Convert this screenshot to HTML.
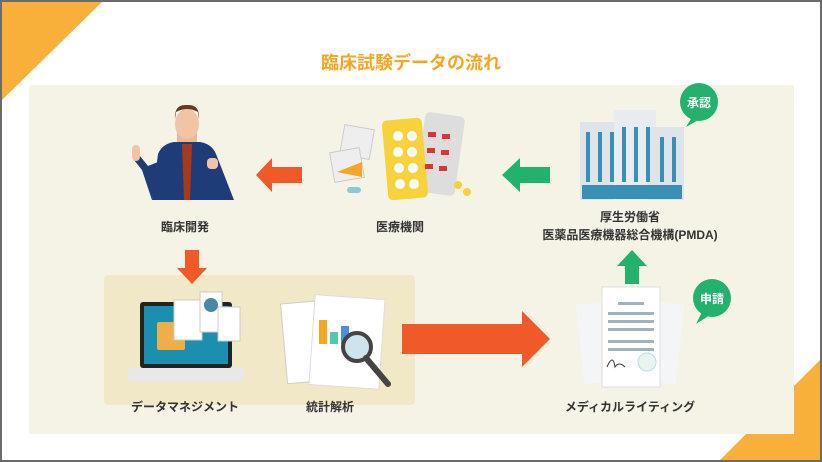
<!DOCTYPE html>
<html><head><meta charset="utf-8"><style>
body{margin:0;width:822px;height:462px;overflow:hidden;background:#fff;font-family:"Liberation Sans","Noto Sans CJK JP",sans-serif}
#w{position:relative;width:818px;height:458px;border:2px solid #6b6b6b;overflow:hidden;background:#fff}
.t{position:absolute;font-size:12px;font-weight:bold;color:#333;text-align:center;white-space:nowrap;transform:translateX(-50%)}
</style></head><body><div id="w">
<svg width="818" height="458" style="position:absolute;left:0;top:0">
<polygon points="0,0 100,0 0,98" fill="#f8b03a"/>
<polygon points="818,358 818,458 718,458" fill="#f8b03a"/>
<rect x="27" y="83" width="765" height="349" fill="#f4f3e6"/>
<rect x="102" y="273" width="311" height="130" rx="5" fill="#f1e8c8"/>
<!-- person -->
<rect x="175" y="128" width="20" height="20" fill="#e8b898"/>
<path d="M150 198 L156 152 Q160 142 172 140 L198 140 Q210 142 214 152 L232 198Z" fill="#1d3c78"/>
<path d="M150 198 L140 168 L132 158 L138 154 L146 164 L156 160Z" fill="#1d3c78"/>
<polygon points="180,142 190,142 188,198 182,198" fill="#a63a1a"/>
<ellipse cx="185" cy="122" rx="12" ry="15" fill="#f0c4a4"/>
<path d="M173 117 Q172 102 185 103 Q198 102 197 117 L196 110 Q185 104 174 110Z" fill="#6b3a1e"/>
<rect x="130" y="143" width="8" height="16" rx="4" fill="#f0c4a4"/>
<rect x="205" y="156" width="11" height="11" rx="4" fill="#f0c4a4"/>
<!-- arrows -->
<polygon points="300,165 270,165 270,156 254,173 270,190 270,181 300,181" fill="#f05a28"/>
<polygon points="548,165 518,165 518,156 500,173 518,190 518,181 548,181" fill="#23b26d"/>
<polygon points="183,248 197,248 197,266 205,266 190,282 175,266 183,266" fill="#f05a28"/>
<polygon points="623,282 637,282 637,264 645,264 630,248 615,264 623,264" fill="#23b26d"/>
<polygon points="400,322 520,322 520,309 548,337 520,365 520,352 400,352" fill="#f05a28"/>
<!-- pills -->
<rect x="340" y="125" width="30" height="30" fill="#eee" stroke="#ccc" transform="rotate(10 355 140)"/>
<rect x="330" y="148" width="30" height="30" fill="#eee" stroke="#ccc" transform="rotate(-10 345 163)"/>
<polygon points="335,170 360,160 360,175" fill="#f5a623"/>
<rect x="418" y="112" width="40" height="80" rx="5" fill="#ddd" transform="rotate(8 438 152)"/>
<rect x="383" y="117" width="40" height="80" rx="5" fill="#f7d23a" transform="rotate(-5 403 157)"/>
<g fill="#fff"><circle cx="396" cy="134" r="5"/><circle cx="410" cy="134" r="5"/><circle cx="396" cy="150" r="5"/><circle cx="410" cy="150" r="5"/><circle cx="397" cy="166" r="5"/><circle cx="411" cy="166" r="5"/><circle cx="398" cy="182" r="5"/><circle cx="412" cy="182" r="5"/></g>
<g fill="#d33"><rect x="426" y="130" width="8" height="5"/><rect x="440" y="132" width="8" height="5"/><rect x="425" y="146" width="8" height="5"/><rect x="439" y="148" width="8" height="5"/><rect x="423" y="162" width="8" height="5"/><rect x="437" y="164" width="8" height="5"/></g>
<circle cx="456" cy="183" r="4" fill="#f7d23a"/><circle cx="465" cy="190" r="4" fill="#f7d23a"/>
<rect x="345" y="185" width="14" height="6" rx="3" fill="#8cc7e0"/>
<!-- building -->
<rect x="578" y="120" width="50" height="78" fill="#dfe4ea"/>
<rect x="612" y="108" width="42" height="90" fill="#e8ecf0"/>
<rect x="645" y="125" width="37" height="73" fill="#dfe4ea"/>
<g fill="#3a8fb7"><rect x="584" y="130" width="4" height="50"/><rect x="596" y="130" width="4" height="50"/><rect x="608" y="130" width="4" height="50"/><rect x="620" y="125" width="4" height="55"/><rect x="632" y="125" width="4" height="55"/><rect x="644" y="125" width="4" height="55"/><rect x="658" y="135" width="4" height="45"/><rect x="670" y="135" width="4" height="45"/>
<rect x="580" y="183" width="100" height="14"/></g>
<circle cx="697" cy="100" r="19" fill="#23b26d"/><polygon points="690,115 684,125 698,117" fill="#23b26d"/>
<text x="697" y="105" font-size="12" font-weight="bold" fill="#fff" text-anchor="middle" font-family="Liberation Sans,Noto Sans CJK JP,sans-serif">承認</text>
<!-- laptop -->
<rect x="138" y="300" width="92" height="66" rx="3" fill="#222"/>
<rect x="142" y="304" width="84" height="58" fill="#1a8fb0"/>
<rect x="126" y="366" width="116" height="14" rx="3" fill="#e8e8e8"/>
<rect x="155" y="320" width="28" height="28" rx="2" fill="#eeae48"/>
<rect x="172" y="298" width="28" height="40" fill="#fff" stroke="#ccc"/>
<rect x="198" y="290" width="22" height="40" fill="#fff" stroke="#ccc"/>
<circle cx="209" cy="303" r="7" fill="#4a87a7"/>
<rect x="216" y="305" width="22" height="34" fill="#fff" stroke="#ccc"/>
<!-- stats -->
<rect x="282" y="300" width="45" height="80" fill="#fff" stroke="#ccc" transform="rotate(-5 304 340)"/>
<rect x="310" y="295" width="70" height="90" fill="#fff" stroke="#ddd" transform="rotate(4 345 340)"/>
<rect x="317" y="318" width="8" height="24" fill="#f5a623"/><rect x="328" y="330" width="8" height="12" fill="#4fcab0"/><rect x="339" y="324" width="8" height="18" fill="#4a8fe0"/>
<circle cx="355" cy="345" r="14" fill="#cfe3ec" stroke="#444" stroke-width="4"/>
<line x1="364" y1="356" x2="386" y2="382" stroke="#444" stroke-width="6" stroke-linecap="round"/>
<!-- docs -->
<rect x="578" y="300" width="50" height="80" fill="#f4f5f7" transform="rotate(-6 603 340)"/>
<rect x="628" y="300" width="50" height="80" fill="#f4f5f7" transform="rotate(6 653 340)"/>
<rect x="600" y="285" width="58" height="100" fill="#fff" stroke="#ddd"/>
<g fill="#9fb3c0"><rect x="616" y="300" width="26" height="3"/><rect x="606" y="310" width="46" height="3"/><rect x="606" y="318" width="46" height="3"/><rect x="606" y="326" width="46" height="3"/><rect x="606" y="338" width="46" height="3"/><rect x="606" y="346" width="46" height="3"/></g>
<circle cx="645" cy="360" r="9" fill="#e8f4f0" stroke="#bde"/>
<path d="M605 365 q6 -14 8 0 q4 -6 10 0" stroke="#333" fill="none"/>
<circle cx="710" cy="296" r="19" fill="#23b26d"/><polygon points="700,310 694,322 708,313" fill="#23b26d"/>
<text x="710" y="301" font-size="12" font-weight="bold" fill="#fff" text-anchor="middle" font-family="Liberation Sans,Noto Sans CJK JP,sans-serif">申請</text>
</svg>
<div class="t" style="left:409px;top:47px;font-size:18px;color:#f5a623">臨床試験データの流れ</div>
<div class="t" style="left:183px;top:216px">臨床開発</div>
<div class="t" style="left:398px;top:216px">医療機関</div>
<div class="t" style="left:628px;top:206px;line-height:18px">厚生労働省<br>医薬品医療機器総合機構(PMDA)</div>
<div class="t" style="left:183px;top:396px">データマネジメント</div>
<div class="t" style="left:328px;top:396px">統計解析</div>
<div class="t" style="left:628px;top:396px">メディカルライティング</div>
</div></body></html>
